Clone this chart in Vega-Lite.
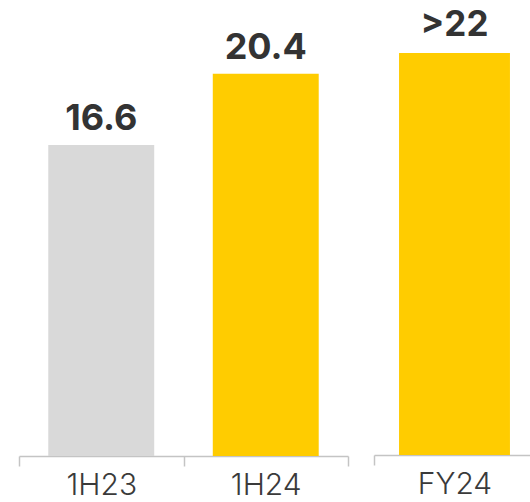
{
  "$schema": "https://vega.github.io/schema/vega-lite/v6.json",
  "background": "white",
  "padding": {"left": 18, "top": 0, "right": 0, "bottom": 0},
  "spacing": 24,
  "datasets": {
    "half": [
      {"period": "1H23", "value": 16.6, "label": "16.6"},
      {"period": "1H24", "value": 20.4, "label": "20.4"}
    ],
    "full": [
      {"period": "FY24", "value": 22, "label": ">22"}
    ]
  },
  "hconcat": [
    {
      "width": 329,
      "height": 456,
      "data": {"name": "half"},
      "encoding": {
        "x": {"field": "period", "type": "nominal", "sort": null, "scale": {"paddingInner": 0, "paddingOuter": 0}, "axis": {"title": null}},
        "y": {"field": "value", "type": "quantitative", "scale": {"domain": [0, 24.34], "nice": false, "zero": true}, "axis": null}
      },
      "layer": [
        {
          "mark": {"type": "bar", "width": {"band": 0.644}},
          "encoding": {
            "color": {"field": "period", "type": "nominal", "scale": {"domain": ["1H23", "1H24", "FY24"], "range": ["#D9D9D9", "#FFCC00", "#FFCC00"]}, "legend": null}
          }
        },
        {
          "mark": {"type": "text", "baseline": "alphabetic", "dy": -15, "font": "Inter", "fontSize": 36, "fontWeight": 700, "color": "#333333"},
          "encoding": {"text": {"field": "label", "type": "nominal"}}
        }
      ]
    },
    {
      "width": 161,
      "height": 455,
      "data": {"name": "full"},
      "encoding": {
        "x": {"field": "period", "type": "nominal", "sort": null, "scale": {"paddingInner": 0, "paddingOuter": 0}, "axis": {"title": null}},
        "y": {"field": "value", "type": "quantitative", "scale": {"domain": [0, 24.9], "nice": false, "zero": true}, "axis": null}
      },
      "layer": [
        {
          "mark": {"type": "bar", "width": {"band": 0.689}},
          "encoding": {
            "color": {"field": "period", "type": "nominal", "scale": {"domain": ["1H23", "1H24", "FY24"], "range": ["#D9D9D9", "#FFCC00", "#FFCC00"]}, "legend": null}
          }
        },
        {
          "mark": {"type": "text", "baseline": "alphabetic", "dy": -17, "font": "Inter", "fontSize": 35, "fontWeight": 700, "color": "#333333"},
          "encoding": {"text": {"field": "label", "type": "nominal"}}
        }
      ]
    }
  ],
  "resolve": {"scale": {"x": "independent", "y": "independent", "color": "independent"}},
  "config": {
    "view": {"stroke": null},
    "axisX": {
      "domainColor": "#C4C4C4",
      "domainWidth": 1.5,
      "tickColor": "#C4C4C4",
      "tickWidth": 1.5,
      "tickSize": 10,
      "tickBand": "extent",
      "labelFont": "Inter",
      "labelFontSize": 30,
      "labelFontWeight": 300,
      "labelColor": "#3a3a3a",
      "labelPadding": 4,
      "labelBaseline": "top",
      "labelAngle": 0
    }
  }
}
